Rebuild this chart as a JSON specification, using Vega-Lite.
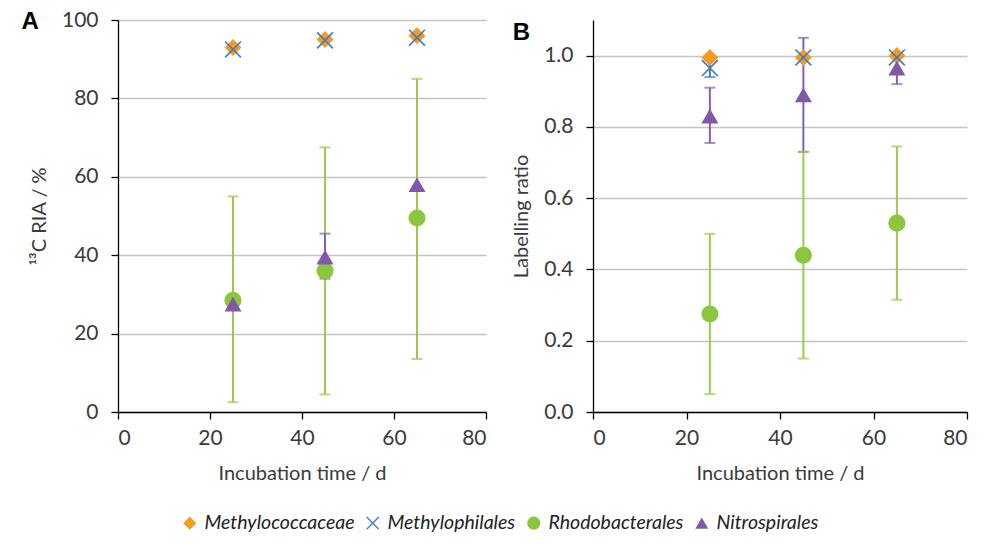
{
  "$schema": "https://vega.github.io/schema/vega-lite/v6.json",
  "background": "white",
  "padding": {"left": 21, "top": 9, "right": 5, "bottom": 60},
  "config": {
    "view": {"stroke": null},
    "font": "Lato",
    "axis": {
      "domainColor": "#000000", "domainWidth": 1.3, "tickColor": "#000000", "tickSize": 7, "tickWidth": 1.3,
      "labelFontSize": 21, "labelColor": "#3a3a3a", "titleFontSize": 20, "titleFontWeight": "normal",
      "titleColor": "#3a3a3a", "gridColor": "#c4c4c4", "gridWidth": 1.3
    },
    "axisY": {"labelPadding": 13, "titlePadding": 12},
    "axisX": {"labelPadding": 8, "titlePadding": 15},
    "title": {"fontSize": 24, "fontWeight": "bold", "font": "Liberation Sans", "color": "#000000"}
  },
  "data": {"values": [
    {"panel": "A", "taxon": "Methylococcaceae", "t": 25, "v": 93},
    {"panel": "A", "taxon": "Methylococcaceae", "t": 45, "v": 95},
    {"panel": "A", "taxon": "Methylococcaceae", "t": 65, "v": 96},
    {"panel": "A", "taxon": "Methylophilales", "t": 25, "v": 92.5},
    {"panel": "A", "taxon": "Methylophilales", "t": 45, "v": 94.8},
    {"panel": "A", "taxon": "Methylophilales", "t": 65, "v": 95.5},
    {"panel": "A", "taxon": "Rhodobacterales", "t": 25, "v": 28.5, "lo": 2.5, "hi": 55},
    {"panel": "A", "taxon": "Rhodobacterales", "t": 45, "v": 36, "lo": 4.5, "hi": 67.5},
    {"panel": "A", "taxon": "Rhodobacterales", "t": 65, "v": 49.5, "lo": 13.5, "hi": 85},
    {"panel": "A", "taxon": "Nitrospirales", "t": 25, "v": 27.5},
    {"panel": "A", "taxon": "Nitrospirales", "t": 45, "v": 39.5, "lo": 34, "hi": 45.5},
    {"panel": "A", "taxon": "Nitrospirales", "t": 65, "v": 58},
    {"panel": "B", "taxon": "Methylococcaceae", "t": 25, "v": 0.995},
    {"panel": "B", "taxon": "Methylococcaceae", "t": 45, "v": 0.995},
    {"panel": "B", "taxon": "Methylococcaceae", "t": 65, "v": 1.0},
    {"panel": "B", "taxon": "Methylophilales", "t": 25, "v": 0.965, "lo": 0.94, "hi": 0.99},
    {"panel": "B", "taxon": "Methylophilales", "t": 45, "v": 0.995},
    {"panel": "B", "taxon": "Methylophilales", "t": 65, "v": 0.995},
    {"panel": "B", "taxon": "Rhodobacterales", "t": 25, "v": 0.275, "lo": 0.05, "hi": 0.5},
    {"panel": "B", "taxon": "Rhodobacterales", "t": 45, "v": 0.44, "lo": 0.15, "hi": 0.73},
    {"panel": "B", "taxon": "Rhodobacterales", "t": 65, "v": 0.53, "lo": 0.315, "hi": 0.745},
    {"panel": "B", "taxon": "Nitrospirales", "t": 25, "v": 0.83, "lo": 0.755, "hi": 0.91},
    {"panel": "B", "taxon": "Nitrospirales", "t": 45, "v": 0.89, "lo": 0.73, "hi": 1.05},
    {"panel": "B", "taxon": "Nitrospirales", "t": 65, "v": 0.965, "lo": 0.92, "hi": 1.0}
  ]},
  "hconcat": [
    {
      "width": 368, "height": 392,
      "title": {"text": "A", "anchor": "start", "frame": "bounds", "dx": -8, "dy": 29},
      "transform": [{"filter": "datum.panel === 'A'"}],
      "encoding": {
        "x": {"field": "t", "type": "quantitative", "scale": {"domain": [0, 80]},
              "axis": {"values": [0, 20, 40, 60, 80], "grid": false, "title": "Incubation time / d"}},
        "y": {"field": "v", "type": "quantitative", "scale": {"domain": [0, 100]},
              "axis": {"values": [0, 20, 40, 60, 80, 100], "grid": true, "title": "¹³C RIA / %"}}
      },
      "layer": [
        {"mark": {"type": "rule", "strokeWidth": 2},
         "encoding": {"y": {"field": "lo", "type": "quantitative"}, "y2": {"field": "hi"},
                      "stroke": {"field": "taxon", "type": "nominal", "legend": null,
                                 "scale": {"domain": ["Nitrospirales", "Rhodobacterales", "Methylophilales", "Methylococcaceae"],
                                           "range": ["#8462AA", "#9CCB4A", "#3F7DC4", "#F59A23"]}}}},
        {"mark": {"type": "tick", "orient": "horizontal", "size": 11, "thickness": 2},
         "encoding": {"y": {"field": "lo", "type": "quantitative"},
                      "fill": {"field": "taxon", "type": "nominal", "legend": null,
                               "scale": {"domain": ["Rhodobacterales", "Nitrospirales", "Methylococcaceae", "Methylophilales"],
                                         "range": ["#9CCB4A", "#8462AA", "#F59A23", "#3F7DC4"]}}}},
        {"mark": {"type": "tick", "orient": "horizontal", "size": 11, "thickness": 2},
         "encoding": {"y": {"field": "hi", "type": "quantitative"},
                      "fill": {"field": "taxon", "type": "nominal", "legend": null}}},
        {"mark": {"type": "point", "filled": true, "opacity": 1, "size": 290},
         "encoding": {
           "color": {"field": "taxon", "type": "nominal",
                     "scale": {"domain": ["Methylococcaceae", "Methylophilales", "Rhodobacterales", "Nitrospirales"],
                               "range": ["#F59A23", "#3F7DC4", "#8CC63F", "#7F58A8"]},
                     "legend": {"orient": "none", "legendX": 62, "legendY": 493, "direction": "horizontal", "title": null,
                                "labelFontSize": 19.5, "labelFontStyle": "italic", "labelColor": "#222222", "symbolSize": 170,
                                "columnPadding": 8, "labelOffset": 5}},
           "shape": {"field": "taxon", "type": "nominal",
                     "scale": {"domain": ["Methylococcaceae", "Methylophilales", "Rhodobacterales", "Nitrospirales"],
                               "range": ["diamond", "M-1,-0.86L-0.86,-1L1,0.86L0.86,1Z M1,-0.86L-0.86,1L-1,0.86L0.86,-1Z", "circle", "triangle-up"]}}
         }}
      ]
    },
    {
      "width": 374, "height": 392,
      "title": {"text": "B", "anchor": "start", "frame": "bounds", "dx": 1, "dy": 29},
      "transform": [{"filter": "datum.panel === 'B'"}],
      "encoding": {
        "x": {"field": "t", "type": "quantitative", "scale": {"domain": [0, 80]},
              "axis": {"values": [0, 20, 40, 60, 80], "grid": false, "title": "Incubation time / d"}},
        "y": {"field": "v", "type": "quantitative", "scale": {"domain": [0, 1.1]},
              "axis": {"values": [0, 0.2, 0.4, 0.6, 0.8, 1.0], "format": ".1f", "grid": true, "title": "Labelling ratio"}}
      },
      "layer": [
        {"mark": {"type": "rule", "strokeWidth": 2},
         "encoding": {"y": {"field": "lo", "type": "quantitative"}, "y2": {"field": "hi"},
                      "stroke": {"field": "taxon", "type": "nominal", "legend": null}}},
        {"mark": {"type": "tick", "orient": "horizontal", "size": 11, "thickness": 2},
         "encoding": {"y": {"field": "lo", "type": "quantitative"},
                      "fill": {"field": "taxon", "type": "nominal", "legend": null}}},
        {"mark": {"type": "tick", "orient": "horizontal", "size": 11, "thickness": 2},
         "encoding": {"y": {"field": "hi", "type": "quantitative"},
                      "fill": {"field": "taxon", "type": "nominal", "legend": null}}},
        {"mark": {"type": "point", "filled": true, "opacity": 1, "size": 290},
         "encoding": {
           "color": {"field": "taxon", "type": "nominal"},
           "shape": {"field": "taxon", "type": "nominal"}
         }}
      ]
    }
  ],
  "spacing": 24
}
